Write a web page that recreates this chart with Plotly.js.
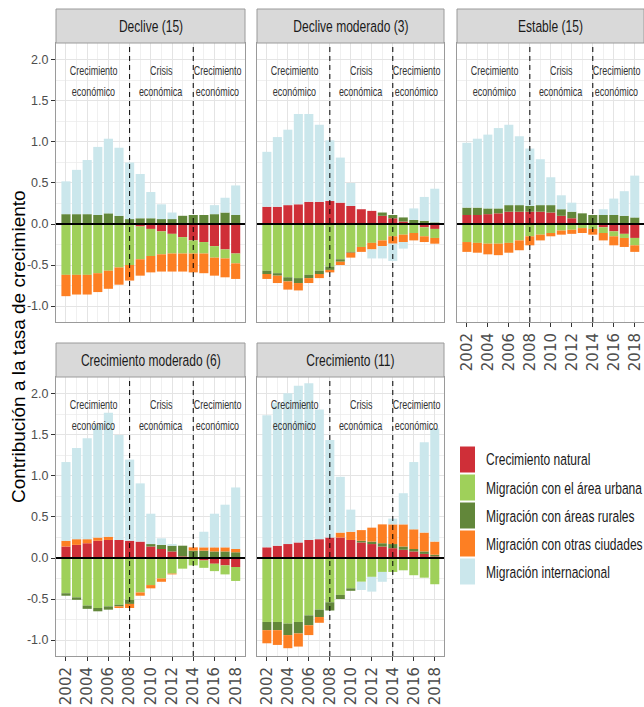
<!DOCTYPE html>
<html><head><meta charset="utf-8">
<script src="https://cdn.plot.ly/plotly-3.0.1.min.js"></script>
<style>html,body{margin:0;padding:0;background:#fff}#chart{width:644px;height:707px}</style>
</head><body><div id="chart"></div>
<script>
const years = [2002,2003,2004,2005,2006,2007,2008,2009,2010,2011,2012,2013,2014,2015,2016,2017,2018];
const seriesNames = ["Crecimiento natural","Migración con el área urbana","Migración con áreas rurales","Migración con otras ciudades","Migración internacional"];
const seriesColors = ["#cf2f38","#9fd05a","#62873a","#fd7f23","#cbe7ec"];
const panelTitles = ["Declive (15)","Declive moderado (3)","Estable (15)","Crecimiento moderado (6)","Crecimiento (11)"];
const periodLabels = [["Crecimiento","económico"],["Crisis","económica"],["Crecimiento","económico"]];
const periodYears = [2004.6, 2011, 2016.3];
const breakYears = [2008, 2014];
const xTickYears = [2002,2004,2006,2008,2010,2012,2014,2016,2018];
const yTickVals = [-1,-0.5,0,0.5,1,1.5,2];
const yTickText = ["-1.0","-0.5","0.0","0.5","1.0","1.5","2.0"];

// Declive (15)
const declive_natural = [0,0,0,0,0,-0.01,-0.01,-0.03,-0.06,-0.09,-0.12,-0.16,-0.20,-0.22,-0.27,-0.31,-0.36];
const declive_urbana  = [-0.62,-0.62,-0.62,-0.60,-0.57,-0.52,-0.49,-0.40,-0.33,-0.28,-0.24,-0.20,-0.16,-0.14,-0.14,-0.11,-0.12];
const declive_rurales = [0.12,0.12,0.12,0.11,0.13,0.10,0.06,0.07,0.07,0.06,0.06,0.10,0.11,0.11,0.12,0.14,0.11];
const declive_otras   = [-0.26,-0.24,-0.24,-0.23,-0.22,-0.21,-0.19,-0.20,-0.20,-0.21,-0.22,-0.22,-0.23,-0.24,-0.22,-0.23,-0.19];
const declive_intl    = [0.40,0.54,0.66,0.83,0.91,0.83,0.69,0.54,0.32,0.18,0.08,0,0,0,0.11,0.18,0.36];

// Declive moderado (3)
const decmod_natural = [0.21,0.21,0.23,0.24,0.27,0.27,0.28,0.26,0.22,0.18,0.16,0.10,0.07,0.03,0.00,-0.04,-0.06];
const decmod_urbana  = [-0.57,-0.60,-0.65,-0.66,-0.62,-0.57,-0.52,-0.43,-0.34,-0.28,-0.23,-0.20,-0.15,-0.13,-0.11,-0.11,-0.11];
const decmod_rurales = [-0.04,-0.03,-0.05,-0.06,-0.04,-0.04,-0.04,-0.03,-0.01,0,0,0.04,0.04,0.05,0.05,0.04,0.02];
const decmod_otras   = [-0.06,-0.09,-0.10,-0.09,-0.06,-0.05,-0.03,-0.04,-0.06,-0.06,-0.08,-0.07,-0.09,-0.09,-0.09,-0.07,-0.07];
const decmod_intl    = [0.67,0.85,0.92,1.10,1.07,0.94,0.74,0.55,0.28,0,-0.11,-0.15,-0.21,-0.08,0.14,0.29,0.41];

// Estable (15)
const estable_natural = [0.11,0.11,0.12,0.13,0.15,0.15,0.15,0.15,0.14,0.10,0.07,0.01,0.00,-0.04,-0.09,-0.12,-0.17];
const estable_urbana  = [-0.22,-0.23,-0.24,-0.24,-0.23,-0.20,-0.15,-0.13,-0.11,-0.08,-0.07,-0.05,-0.06,-0.07,-0.06,-0.05,-0.09];
const estable_rurales = [0.09,0.09,0.07,0.06,0.08,0.08,0.07,0.08,0.09,0.08,0.08,0.12,0.11,0.11,0.11,0.10,0.08];
const estable_otras   = [-0.12,-0.12,-0.13,-0.14,-0.12,-0.12,-0.11,-0.07,-0.04,-0.05,-0.05,-0.06,-0.07,-0.09,-0.11,-0.11,-0.08];
const estable_intl    = [0.79,0.84,0.90,0.98,0.98,0.84,0.70,0.56,0.34,0.17,0.11,0,0,0.07,0.20,0.30,0.51];

// Crecimiento moderado (6)
const crecmod_natural = [0.14,0.16,0.18,0.21,0.22,0.22,0.21,0.20,0.14,0.11,0.08,0.02,0.00,-0.03,-0.07,-0.09,-0.11];
const crecmod_urbana  = [-0.43,-0.48,-0.58,-0.61,-0.59,-0.57,-0.51,-0.42,-0.33,-0.25,-0.19,-0.13,-0.09,-0.09,-0.09,-0.11,-0.17];
const crecmod_rurales = [-0.03,-0.03,-0.04,-0.04,-0.04,-0.02,-0.05,0,0.03,0.05,0.07,0.13,0.09,0.09,0.08,0.08,0.07];
const crecmod_otras   = [0.07,0.07,0.05,0.04,0.04,-0.02,-0.05,-0.04,-0.04,-0.04,-0.01,0,0.04,0.04,0.05,0.05,0.04];
const crecmod_intl    = [0.96,1.11,1.23,1.37,1.51,1.28,0.99,0.71,0.37,0.08,0.02,0,0,0.19,0.41,0.52,0.75];

// Crecimiento (11)
const crec_natural = [0.13,0.15,0.17,0.19,0.22,0.23,0.25,0.25,0.22,0.19,0.17,0.14,0.12,0.10,0.08,0.05,0.02];
const crec_urbana  = [-0.78,-0.78,-0.80,-0.78,-0.70,-0.63,-0.54,-0.45,-0.37,-0.29,-0.23,-0.17,-0.17,-0.15,-0.21,-0.24,-0.32];
const crec_rurales = [-0.10,-0.10,-0.14,-0.14,-0.12,-0.09,-0.10,-0.05,-0.03,0.02,0.03,0.04,0.05,0.04,0.03,0.03,0.02];
const crec_otras   = [-0.16,-0.18,-0.16,-0.16,-0.12,-0.07,0,0.06,0.10,0.13,0.17,0.23,0.24,0.27,0.24,0.23,0.16];
const crec_intl    = [1.61,1.74,1.84,1.91,1.91,1.58,1.19,0.68,0.27,-0.10,-0.18,-0.12,0.07,0.38,0.82,1.10,1.38];

const panelData = [
  [declive_natural, declive_urbana, declive_rurales, declive_otras, declive_intl],
  [decmod_natural, decmod_urbana, decmod_rurales, decmod_otras, decmod_intl],
  [estable_natural, estable_urbana, estable_rurales, estable_otras, estable_intl],
  [crecmod_natural, crecmod_urbana, crecmod_rurales, crecmod_otras, crecmod_intl],
  [crec_natural, crec_urbana, crec_rurales, crec_otras, crec_intl]
];

const W = 644, H = 707;
const fx = v => v / W;
const fy = v => 1 - v / H;
const SANS = "Liberation Sans, Arial, sans-serif";

// panel geometry in pixels: [left, right, top, bottom, stripTop, showXLabels, showYLabels]
const geom = [
  [56, 245, 43, 322, 9, false, true],
  [257, 444, 43, 322, 9, false, false],
  [457, 644, 43, 322, 9, true, false],
  [56, 245, 377, 656, 343, true, true],
  [257, 444, 377, 656, 343, true, false]
];

const traces = [];
const shapes = [];
const annotations = [];
const layout = {
  width: W, height: H,
  margin: {l: 0, r: 0, t: 0, b: 0},
  paper_bgcolor: "#fff", plot_bgcolor: "#fff",
  barmode: "relative",
  showlegend: false,
  font: {family: SANS, color: "#4d4d4d"}
};

geom.forEach((g, p) => {
  const sfx = p === 0 ? "" : String(p + 1);
  const xa = "x" + sfx, ya = "y" + sfx;
  const [l, r, t, b, st, showX, showY] = g;
  layout["xaxis" + sfx] = {
    domain: [fx(l), fx(r)], anchor: ya,
    range: [2001.06, 2018.88],
    tickmode: "array", tickvals: xTickYears, ticktext: xTickYears.map(String),
    showticklabels: showX, ticks: showX ? "outside" : "", ticklen: 4, tickcolor: "#333", tickwidth: 1,
    tickangle: -90, tickfont: {family: "DejaVu Sans, sans-serif", size: 15, color: "#4d4d4d"},
    showgrid: true, gridcolor: "#e4e4e4", gridwidth: 1,
    minor: {tickmode: "array", tickvals: years.filter(y => y % 2 === 1), showgrid: true, gridcolor: "#eaeaea", gridwidth: 0.7},
    zeroline: false, showline: true, mirror: true, linecolor: "#9a9a9a", linewidth: 1,
    fixedrange: true
  };
  layout["yaxis" + sfx] = {
    domain: [fy(b), fy(t)], anchor: xa,
    range: [-1.195, 2.207],
    tickmode: "array", tickvals: yTickVals, ticktext: yTickText,
    showticklabels: showY, ticks: showY ? "outside" : "", ticklen: 4, tickcolor: "#333", tickwidth: 1,
    tickfont: {family: SANS, size: 12.5, color: "#4d4d4d"},
    showgrid: true, gridcolor: "#e4e4e4", gridwidth: 1,
    minor: {tickmode: "array", tickvals: [-0.75, -0.25, 0.25, 0.75, 1.25, 1.75], showgrid: true, gridcolor: "#eaeaea", gridwidth: 0.7},
    zeroline: false, showline: true, mirror: true, linecolor: "#9a9a9a", linewidth: 1,
    fixedrange: true
  };

  panelData[p].forEach((vals, s) => {
    traces.push({
      type: "bar", x: years, y: vals, name: seriesNames[s],
      xaxis: xa, yaxis: ya, width: 0.86,
      marker: {color: seriesColors[s], line: {width: 0}},
      hoverinfo: "skip"
    });
  });

  // strip
  shapes.push({type: "rect", xref: "paper", yref: "paper",
    x0: fx(l), x1: fx(r), y0: fy(t), y1: fy(st),
    fillcolor: "#d9d9d9", line: {color: "#9a9a9a", width: 1}, layer: "above"});
  annotations.push({xref: "paper", yref: "paper", x: fx((l + r) / 2), y: fy((t + st) / 2),
    text: panelTitles[p], showarrow: false, xanchor: "center", yanchor: "middle",
    font: {family: SANS, size: 16.5, color: "#1a1a1a"}, name: "narrow:0.73"});

  // period separators
  breakYears.forEach(yr => {
    shapes.push({type: "line", xref: xa, yref: ya + " domain", x0: yr, x1: yr, y0: 0, y1: 1,
      line: {color: "#000", width: 1, dash: "5px,4px"}, layer: "above"});
  });
  // zero line
  shapes.push({type: "line", xref: xa + " domain", yref: ya, x0: 0, x1: 1, y0: 0, y1: 0,
    line: {color: "#000", width: 2.2}, layer: "above"});

  // period labels
  periodLabels.forEach((lines, k) => {
    annotations.push({xref: xa, yref: ya, x: periodYears[k], y: 1.87, text: lines[0], showarrow: false,
      xanchor: "center", yanchor: "middle", font: {family: SANS, size: 13, color: "#333"}, name: "narrow:0.69"});
    annotations.push({xref: xa, yref: ya, x: periodYears[k], y: 1.61, text: lines[1], showarrow: false,
      xanchor: "center", yanchor: "middle", font: {family: SANS, size: 13, color: "#333"}, name: "narrow:0.69"});
  });
});

// legend (drawn as keys + labels)
const legendTop = 459.5, legendStep = 28;
seriesNames.forEach((nm, s) => {
  const cy = legendTop + s * legendStep;
  shapes.push({type: "rect", xref: "paper", yref: "paper",
    x0: fx(460), x1: fx(475), y0: fy(cy + 13), y1: fy(cy - 13),
    fillcolor: seriesColors[s], line: {width: 0}});
  annotations.push({xref: "paper", yref: "paper", x: fx(484), y: fy(cy), text: nm, showarrow: false,
    xanchor: "left", yanchor: "middle", font: {family: SANS, size: 16.5, color: "#1a1a1a"}, name: "narrowleft:0.73"});
});

// y axis title
annotations.push({xref: "paper", yref: "paper", x: fx(18), y: fy(347), text: "Contribución a la tasa de crecimiento",
  showarrow: false, textangle: -90, xanchor: "center", yanchor: "middle",
  font: {family: SANS, size: 19, color: "#000"}});

layout.shapes = shapes;
layout.annotations = annotations;

Plotly.newPlot("chart", traces, layout, {staticPlot: true, displayModeBar: false}).then(gd => {
  // condense the horizontal facet/legend/period texts (the reference uses a narrow typeface)
  const nodes = gd.querySelectorAll("g.annotation");
  nodes.forEach((node, i) => {
    const ann = annotations[i];
    if (!ann || !ann.name) return;
    const [kind, kStr] = ann.name.split(":");
    const k = parseFloat(kStr);
    const txt = node.querySelector("text.annotation-text");
    if (!txt) return;
    const bb = txt.getBBox();
    const ax = kind === "narrowleft" ? bb.x : bb.x + bb.width / 2;
    const prev = txt.getAttribute("transform") || "";
    txt.setAttribute("transform", prev + ` translate(${ax},0) scale(${k},1) translate(${-ax},0)`);
  });
});
</script>
</body></html>
